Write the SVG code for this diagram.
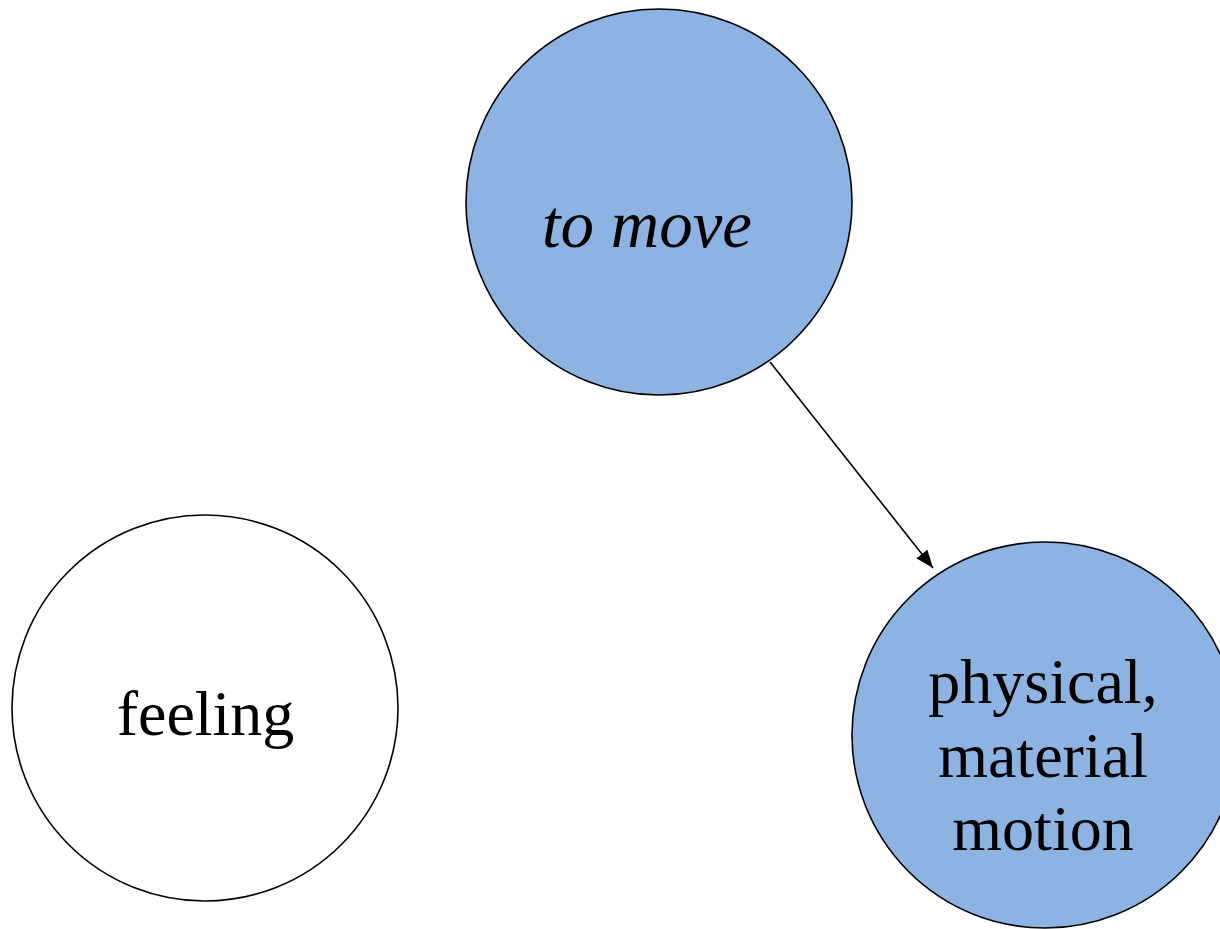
<svg xmlns="http://www.w3.org/2000/svg" width="1220" height="929" viewBox="0 0 1220 929">
<style>
.node{stroke:#000;stroke-width:1.6}
.blue{fill:#8db3e2}
.white{fill:#fff}
.lbl{font-family:"Liberation Serif","Times New Roman",serif;font-size:64px;fill:#000;text-anchor:middle}
.it{font-style:italic;font-size:67px}
.edge{stroke:#000;stroke-width:1.6;fill:none}
</style>
<defs>
<marker id="arr" markerUnits="userSpaceOnUse" markerWidth="20" markerHeight="16" refX="18" refY="7" orient="auto">
<path d="M0,0 L18,7 L0,14 Z" fill="#000"/>
</marker>
</defs>
<rect width="1220" height="929" fill="#fff"/>
<g id="node-to-move">
<circle class="node blue" cx="659" cy="202" r="193"/>
<text class="lbl it" x="647" y="247">to move</text>
</g>
<g id="node-feeling">
<circle class="node white" cx="205" cy="708" r="193"/>
<text class="lbl" x="205.5" y="735">feeling</text>
</g>
<g id="node-physical">
<circle class="node blue" cx="1045" cy="735" r="193"/>
<text class="lbl" x="1043" y="703">physical,</text>
<text class="lbl" x="1043" y="777">material</text>
<text class="lbl" x="1043" y="850">motion</text>
</g>
<g id="connectors">
<line class="edge" x1="770" y1="362" x2="933" y2="568" marker-end="url(#arr)"/>
</g>
</svg>
